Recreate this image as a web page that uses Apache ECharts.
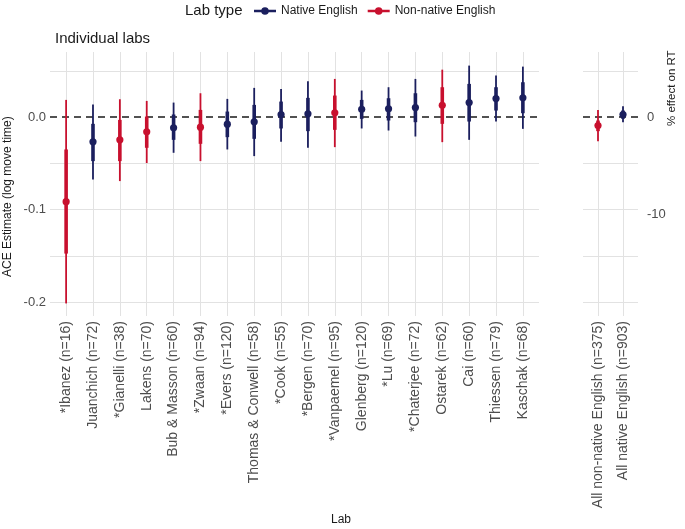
<!DOCTYPE html>
<html>
<head>
<meta charset="utf-8">
<script src="https://cdn.jsdelivr.net/npm/echarts@6/dist/echarts.min.js"></script>
<style>html,body{margin:0;padding:0;background:#fff}#c{width:685px;height:529px}</style>
</head>
<body>
<div id="c"></div>
<script>
// ---- data ----
const labs = ["*Ibanez (n=16)","Juanchich (n=72)","*Gianelli (n=38)","Lakens (n=70)","Bub & Masson (n=60)","*Zwaan (n=94)","*Evers (n=120)","Thomas & Conwell (n=58)","*Cook (n=55)","*Bergen (n=70)","*Vanpaemel (n=95)","Glenberg (n=120)","*Lu (n=69)","*Chaterjee (n=72)","Ostarek (n=62)","Cai (n=60)","Thiessen (n=79)","Kaschak (n=68)"];
const labNative = [false,true,false,false,true,false,true,true,true,true,false,true,true,true,false,true,true,true];
const labEst  = [-0.0914,-0.0266,-0.0245,-0.0158,-0.0115,-0.0108,-0.0076,-0.0050,0.0029,0.0036,0.0047,0.0086,0.0090,0.0104,0.0129,0.0158,0.0201,0.0209];
const labLo66 = [-0.1475,-0.0475,-0.0475,-0.0331,-0.0245,-0.0288,-0.0216,-0.0234,-0.0122,-0.0151,-0.0137,-0.0018,-0.0036,-0.0054,-0.0072,-0.0047,0.0072,0.0043];
const labHi66 = [-0.0349,-0.0072,-0.0029,0.0007,0.0029,0.0079,0.0061,0.0133,0.0169,0.0209,0.0234,0.0187,0.0205,0.0259,0.0324,0.0360,0.0324,0.0378];
const labLo95 = [-0.2014,-0.0673,-0.0691,-0.0496,-0.0385,-0.0475,-0.0349,-0.0421,-0.0266,-0.0331,-0.0324,-0.0122,-0.0144,-0.0209,-0.0270,-0.0245,-0.0047,-0.0126];
const labHi95 = [0.0187,0.0137,0.0194,0.0176,0.0158,0.0259,0.0198,0.0317,0.0306,0.0388,0.0414,0.0288,0.0324,0.0414,0.0514,0.0558,0.0450,0.0547];

const groups = ["All non-native English (n=375)","All native English (n=903)"];
const groupNative = [false,true];
const groupEst  = [-0.0090,0.0029];
const groupLo66 = [-0.0151,-0.0018];
const groupHi66 = [-0.0036,0.0072];
const groupLo95 = [-0.0259,-0.0054];
const groupHi95 = [0.0079,0.0119];

const yTickLabels = [0.0,-0.1,-0.2];
const yGridValues = [0.05,-0.05,-0.1,-0.15,-0.2];
const pctTicks = [0,-10];

const navy = "#1b1f5e", red = "#c8102e";
const yMin = -0.215, yMax = 0.0705;
const txt = "#4d4d4d";
const font = "Liberation Sans";

function rows(est,lo66,hi66,lo95,hi95,nat,wantNative){
  const out=[];
  est.forEach((v,i)=>{ if(nat[i]===wantNative) out.push([i,v,lo66[i],hi66[i],lo95[i],hi95[i]]); });
  return out;
}
function renderItem(params, api){
  const x = api.value(0);
  const p = api.coord([x, api.value(1)]);
  const a = api.coord([x, api.value(2)]), b = api.coord([x, api.value(3)]);
  const c = api.coord([x, api.value(4)]), d = api.coord([x, api.value(5)]);
  const col = api.visual('color');
  return {type:'group', children:[
    {type:'line', shape:{x1:c[0],y1:c[1],x2:d[0],y2:d[1]}, style:{stroke:col,lineWidth:1.8}},
    {type:'line', shape:{x1:a[0],y1:a[1],x2:b[0],y2:b[1]}, style:{stroke:col,lineWidth:3.6}},
    {type:'circle', shape:{cx:p[0],cy:p[1],r:3.6}, style:{fill:col}}
  ]};
}
function gridSeries(gi, n){
  const x0 = -0.6, x1 = n - 0.4;
  const lines = yGridValues.map(v=>[{coord:[x0,v]},{coord:[x1,v]}]);
  for(let i=0;i<n;i++) lines.push([{coord:[i,yMin]},{coord:[i,yMax]}]);
  return [{
    type:'line', xAxisIndex:gi, yAxisIndex:gi, data:[], silent:true, z:0,
    markLine:{silent:true, symbol:['none','none'], label:{show:false}, z:0, animation:false,
      lineStyle:{color:'#e2e2e2', width:1, type:'solid'}, data:lines}
  },{
    type:'line', xAxisIndex:gi, yAxisIndex:gi, data:[], silent:true, z:1,
    markLine:{silent:true, symbol:['none','none'], label:{show:false}, z:1, animation:false,
      lineStyle:{color:'#1a1a1a', width:1.7, type:[7,5]}, data:[[{coord:[x0,0]},{coord:[x1,0]}]]}
  }];
}
function xAxis(gi, names){
  return {type:'value', gridIndex:gi, min:-0.6, max:names.length-0.4,
    axisLine:{show:false}, axisTick:{show:false}, splitLine:{show:false},
    axisLabel:{customValues:names.map((_,i)=>i), formatter:v=>names[Math.round(v)],
      rotate:90, margin:5, color:txt, fontSize:14, fontFamily:font}};
}
const legendIcon = 'path://M0,4 L22,4 L22,6.4 L0,6.4 Z M11,1.4 A3.8,3.8 0 1,1 11,9 A3.8,3.8 0 1,1 11,1.4 Z';

const option = {
  animation:false,
  backgroundColor:'#fff',
  title:[
    {text:'Lab type', left:185, top:3, padding:0, textStyle:{fontSize:15, fontWeight:'normal', color:'#1a1a1a', fontFamily:font}},
    {text:'Individual labs', left:55, top:31, padding:0, textStyle:{fontSize:15, fontWeight:'normal', color:'#1a1a1a', fontFamily:font}}
  ],
  legend:{left:254, top:5, itemWidth:22, itemHeight:10, itemGap:10, padding:0,
    data:[{name:'Native English', icon:legendIcon},{name:'Non-native English', icon:legendIcon}],
    textStyle:{fontSize:12, color:'#1a1a1a', fontFamily:font}},
  grid:[
    {left:50, top:52, width:489, height:264, containLabel:false, outerBoundsMode:'none'},
    {left:583, top:52, width:55, height:264, containLabel:false, outerBoundsMode:'none'}
  ],
  xAxis:[xAxis(0, labs), xAxis(1, groups)],
  yAxis:[
    {type:'value', gridIndex:0, min:yMin, max:yMax, axisLine:{show:false}, axisTick:{show:false}, splitLine:{show:false},
     axisLabel:{customValues:yTickLabels, formatter:v=>v.toFixed(1), margin:4, color:txt, fontSize:13, fontFamily:font}},
    {type:'value', gridIndex:1, position:'right', min:yMin, max:yMax, axisLine:{show:false}, axisTick:{show:false}, splitLine:{show:false},
     axisLabel:{customValues:pctTicks.map(p=>Math.log(1+p/100)), formatter:v=>String(Math.round((Math.exp(v)-1)*100)), margin:9, color:txt, fontSize:13, fontFamily:font}}
  ],
  graphic:[
    {type:'text', left:331, top:514, style:{text:'Lab', fontSize:12, fill:'#1a1a1a', fontFamily:font}},
    {type:'text', x:2, y:277, rotation:Math.PI/2, style:{text:'ACE Estimate (log move time)', fontSize:12, fill:'#1a1a1a', fontFamily:font}},
    {type:'text', x:666, y:126, rotation:Math.PI/2, style:{text:'% effect on RT', fontSize:11.5, fill:'#1a1a1a', fontFamily:font}}
  ],
  series:[
    ...gridSeries(0, labs.length),
    ...gridSeries(1, groups.length),
    {name:'Native English', type:'custom', xAxisIndex:0, yAxisIndex:0, z:5, itemStyle:{color:navy}, renderItem,
     data:rows(labEst,labLo66,labHi66,labLo95,labHi95,labNative,true)},
    {name:'Non-native English', type:'custom', xAxisIndex:0, yAxisIndex:0, z:5, itemStyle:{color:red}, renderItem,
     data:rows(labEst,labLo66,labHi66,labLo95,labHi95,labNative,false)},
    {name:'Native English', type:'custom', xAxisIndex:1, yAxisIndex:1, z:5, itemStyle:{color:navy}, renderItem,
     data:rows(groupEst,groupLo66,groupHi66,groupLo95,groupHi95,groupNative,true)},
    {name:'Non-native English', type:'custom', xAxisIndex:1, yAxisIndex:1, z:5, itemStyle:{color:red}, renderItem,
     data:rows(groupEst,groupLo66,groupHi66,groupLo95,groupHi95,groupNative,false)}
  ]
};
echarts.init(document.getElementById('c'), null, {renderer:'canvas'}).setOption(option);
</script>
</body>
</html>
